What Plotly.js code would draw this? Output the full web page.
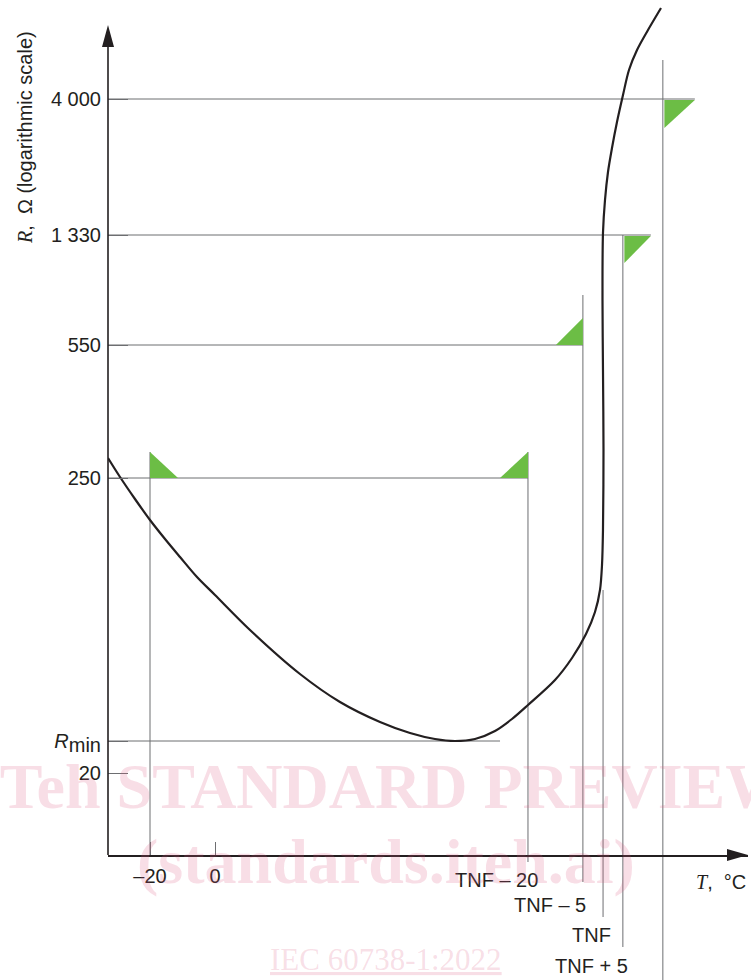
<!DOCTYPE html>
<html>
<head>
<meta charset="utf-8">
<script src="https://cdn.plot.ly/plotly-3.0.1.min.js"></script>
<style>html,body{margin:0;padding:0;background:#fff;}#chart{width:751px;height:980px;}</style>
</head>
<body>
<div id="chart"></div>
<script>
// ---- Data (schematic positions) ----
// T axis in °C (schematic); R axis as position on the logarithmic scale (schematic units)
const T_TICK_VALS = [-20, 0];
const T_TICK_TEXT = ['\u201320', '0'];
const TNF_LABELS = ['TNF \u2013 20', 'TNF \u2013 5', 'TNF', 'TNF + 5'];
const TNF_POS = [96.3, 113.2, 119.4, 125.5];
const LIMIT_T = 137.8;

const R_TICK_TEXT = ['4 000', '1 330', '550', '250', '<i>R</i><sub><span style="font-size:20px">min</span></sub>', '20'];
const R_TICK_POS = [7.56, 6.20, 5.10, 3.77, 1.14, 0.82];

const CURVE_T = [-32.92, -29.23, -24.62, -20.0, -15.38, -10.77, -5.54, 0, 10.77, 26.15, 38.46, 50.77, 60.0, 67.69, 73.85, 80.0, 86.15, 91.38, 96.31, 104.62, 109.85, 114.15, 116.92, 118.46, 119.08, 119.38, 119.54, 119.38, 119.23, 119.38, 120.0, 120.92, 122.15, 123.69, 125.54, 127.38, 129.85, 133.23, 137.23];
const CURVE_R = [3.97, 3.78, 3.56, 3.35, 3.16, 2.98, 2.78, 2.60, 2.25, 1.81, 1.53, 1.33, 1.22, 1.16, 1.14, 1.16, 1.24, 1.36, 1.50, 1.75, 1.97, 2.21, 2.43, 2.65, 2.90, 3.25, 4.05, 4.85, 5.55, 6.22, 6.55, 6.83, 7.07, 7.33, 7.60, 7.85, 8.05, 8.25, 8.47];

// ---- Layout helpers ----
const X_RANGE = [-32.923, 164.0];
const Y_RANGE = [-1.25, 8.55];
const PX_PER_T = 640 / (X_RANGE[1] - X_RANGE[0]);
const GREY = '#6d6e71';
const DARK = '#231f20';
const GREEN = '#6cbd45';
const SANS = 'Liberation Sans, Arial, sans-serif';
const SERIF = 'Liberation Serif, Times New Roman, serif';

const shapes = [];
function hline(y, xEnd) {
  shapes.push({type: 'line', xref: 'x', yref: 'y', x0: X_RANGE[0], x1: xEnd, y0: y, y1: y,
    line: {color: GREY, width: 1}, layer: 'below'});
}
function vline(x, y0, y1) {
  shapes.push({type: 'line', xref: 'x', yref: 'y', x0: x, x1: x, y0: y0, y1: y1,
    line: {color: GREY, width: 1}, layer: 'below'});
}
function tri(x, y, path) {
  shapes.push({type: 'path', xref: 'x', yref: 'y', xsizemode: 'pixel', ysizemode: 'pixel',
    xanchor: x, yanchor: y, path: path, fillcolor: GREEN, line: {width: 0}, layer: 'above'});
}

// horizontal reference lines
hline(R_TICK_POS[0], LIMIT_T + 32 / PX_PER_T);
hline(R_TICK_POS[1], TNF_POS[3] + 28 / PX_PER_T);
hline(R_TICK_POS[2], TNF_POS[1]);
hline(R_TICK_POS[3], TNF_POS[0]);
hline(R_TICK_POS[4], 87.7);

// vertical reference lines
vline(T_TICK_VALS[0], R_TICK_POS[3] + 0.26, 0);
vline(TNF_POS[0], R_TICK_POS[3] + 0.26, -0.07);
vline(TNF_POS[1], 5.60, -0.27);
vline(TNF_POS[2], 2.65, -0.62);
vline(TNF_POS[3], R_TICK_POS[1], -0.92);
vline(LIMIT_T, 7.95, Y_RANGE[0]);

// green tolerance triangles
tri(T_TICK_VALS[0], R_TICK_POS[3], 'M0,0 L0,26 L28,0 Z');
tri(TNF_POS[0], R_TICK_POS[3], 'M0,0 L0,26 L-28,0 Z');
tri(TNF_POS[1], R_TICK_POS[2], 'M0,0 L0,27 L-27,0 Z');
tri(TNF_POS[3], R_TICK_POS[1], 'M1.5,-1 L28,-1 L1.5,-28 Z');
tri(LIMIT_T, R_TICK_POS[0], 'M1.5,-1 L32,-1 L1.5,-29 Z');

// y axis line with arrow
const Y_TOP = 8.30;
shapes.push({type: 'line', xref: 'paper', yref: 'y', x0: 0, x1: 0, y0: 0, y1: Y_TOP - 0.15,
  line: {color: DARK, width: 1.6}});
shapes.push({type: 'path', xref: 'paper', yref: 'y', xsizemode: 'pixel', ysizemode: 'pixel',
  xanchor: 0, yanchor: Y_TOP, path: 'M0,0 L-6,-22 L6,-22 Z', fillcolor: DARK, line: {width: 0}});
// x axis arrow head
shapes.push({type: 'path', xref: 'paper', yref: 'y', xsizemode: 'pixel', ysizemode: 'pixel',
  xanchor: 1, yanchor: 0, path: 'M0,0 L-21,6 L-21,-6 Z', fillcolor: DARK, line: {width: 0}});

// annotations
const TNF_LABEL_Y = [-0.245, -0.50, -0.80, -1.11];
const TNF_LABEL_SHIFT = [12, 5, 10, 7];
const annotations = TNF_LABELS.map((t, i) => ({
  x: TNF_POS[i], y: TNF_LABEL_Y[i], xref: 'x', yref: 'y', text: t, showarrow: false,
  xanchor: 'right', yanchor: 'middle', xshift: TNF_LABEL_SHIFT[i],
  font: {family: SANS, size: 20, color: DARK}
}));

annotations.push({
  xref: 'paper', yref: 'paper', x: (25 - 108) / 640, y: 1 - 138 / 980, textangle: -90,
  text: '<span style="font-family:Liberation Serif"><i>R</i></span>,\u00a0 \u03a9 (logarithmic scale)',
  showarrow: false, xanchor: 'center', yanchor: 'middle',
  font: {family: SANS, size: 20, color: DARK}
});
annotations.push({
  xref: 'paper', yref: 'paper', x: 1, y: 1 - 882 / 980, xshift: 0,
  text: '<span style="font-family:Liberation Serif"><i>T</i></span>,\u00a0 \u00b0C',
  showarrow: false, xanchor: 'right', yanchor: 'middle',
  font: {family: SANS, size: 20, color: DARK}
});

// watermark
const WM = 'rgba(220,90,130,0.2)';
annotations.push({
  xref: 'paper', yref: 'paper', x: (-20 - 108) / 640, y: 1 - 786 / 980,
  text: '<b>iTeh STANDARD PREVIEW</b>', showarrow: false, xanchor: 'left', yanchor: 'middle',
  font: {family: SERIF, size: 64, color: WM}
});
annotations.push({
  xref: 'paper', yref: 'paper', x: (386 - 108) / 640, y: 1 - 861 / 980,
  text: '<b>(standards.iteh.ai)</b>', showarrow: false, xanchor: 'center', yanchor: 'middle',
  font: {family: SERIF, size: 64, color: WM}
});
annotations.push({
  xref: 'paper', yref: 'paper', x: (386 - 108) / 640, y: 1 - 959 / 980,
  text: '<u>IEC 60738-1:2022</u>', showarrow: false, xanchor: 'center', yanchor: 'middle',
  font: {family: SERIF, size: 31, color: WM}
});

const trace = {
  x: CURVE_T, y: CURVE_R, type: 'scatter', mode: 'lines',
  line: {color: DARK, width: 2.2, shape: 'spline', smoothing: 0.9},
  hoverinfo: 'skip'
};

const layout = {
  width: 751, height: 980,
  margin: {l: 108, r: 3, t: 0, b: 0, pad: 0},
  paper_bgcolor: '#fff', plot_bgcolor: '#fff',
  showlegend: false,
  xaxis: {
    range: X_RANGE, anchor: 'free', position: (980 - 855) / 980,
    showgrid: false, zeroline: false, showline: true, linecolor: DARK, linewidth: 1.6,
    tickmode: 'array', tickvals: T_TICK_VALS, ticktext: T_TICK_TEXT,
    ticks: 'inside', ticklen: 13, tickcolor: GREY, tickwidth: 1,
    tickfont: {family: SANS, size: 20, color: DARK}, ticklabelstandoff: 2
  },
  yaxis: {
    range: Y_RANGE, showgrid: false, zeroline: false, showline: false,
    tickmode: 'array', tickvals: R_TICK_POS, ticktext: R_TICK_TEXT,
    ticks: 'inside', ticklen: 20, tickcolor: GREY, tickwidth: 1,
    tickfont: {family: SANS, size: 20, color: DARK}, ticklabelstandoff: 6
  },
  shapes: shapes,
  annotations: annotations
};

Plotly.newPlot('chart', [trace], layout, {displayModeBar: false, staticPlot: true});
</script>
</body>
</html>
